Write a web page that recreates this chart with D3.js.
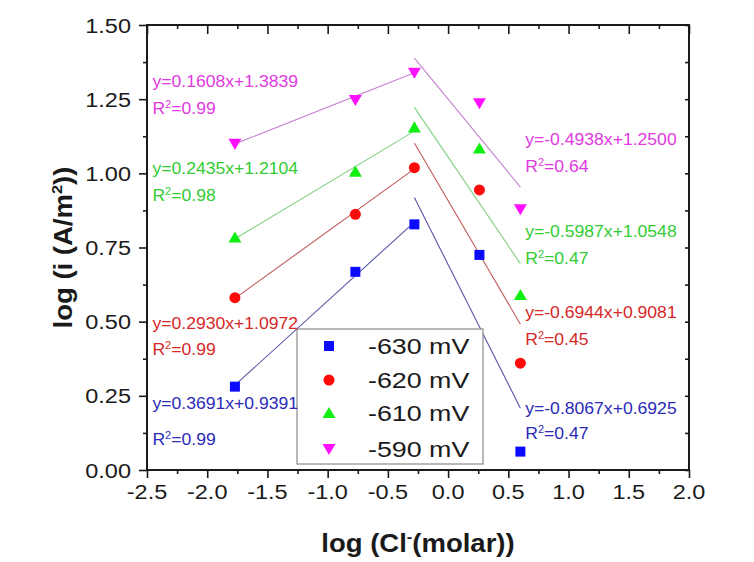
<!DOCTYPE html>
<html>
<head>
<meta charset="utf-8">
<script src="https://cdn.jsdelivr.net/npm/d3@7"></script>
<style>
  body { margin: 0; background: #fff; }
  text { font-family: "Liberation Sans", Arial, sans-serif; }
</style>
</head>
<body>
<svg id="chart"></svg>
<script>
// data
const logCl = [-1.77, -0.77, -0.28, 0.26, 0.60];
const seriesNames = ["-630 mV", "-620 mV", "-610 mV", "-590 mV"];
const logI630 = [0.281, 0.668, 0.828, 0.725, 0.062];
const logI620 = [0.581, 0.862, 1.019, 0.944, 0.360];
const logI610 = [0.784, 1.006, 1.155, 1.084, 0.590];
const logI590 = [1.099, 1.247, 1.339, 1.236, 0.879];

// linear fits printed on the chart
const leftSlope = [0.3691, 0.2930, 0.2435, 0.1608];
const leftIntercept = [0.9391, 1.0972, 1.2104, 1.3839];
const leftR2 = ["0.99", "0.99", "0.98", "0.99"];
const rightSlope = [-0.8067, -0.6944, -0.5987, -0.4938];
const rightIntercept = [0.6925, 0.9081, 1.0548, 1.2500];
const rightR2 = ["0.47", "0.45", "0.47", "0.64"];
const leftFitX = [-1.77, -0.28];
const rightFitX = [-0.28, 0.60];

const xTicks = [-2.5, -2.0, -1.5, -1.0, -0.5, 0.0, 0.5, 1.0, 1.5, 2.0];
const yTicks = [0.00, 0.25, 0.50, 0.75, 1.00, 1.25, 1.50];

// styles
const markerColors = ["#0a0aff", "#ff0a0a", "#11ee11", "#ff11ff"];
const lineColors = ["#5656a8", "#c05a5a", "#80d080", "#c480cf"];
const textColors = ["#2b2bb8", "#d62828", "#33cc33", "#e03ae0"];

// label anchors in data units (equation baseline, R2 baseline)
const leftLabelX = -2.455;
const leftLabelY = [[0.204, 0.083], [0.474, 0.386], [0.999, 0.908], [1.291, 1.200]];
const rightLabelX = 0.64;
const rightLabelY = [[0.190, 0.103], [0.511, 0.420], [0.784, 0.696], [1.097, 1.006]];

const width = 754, height = 562;
const plot = { left: 147, right: 689, top: 25, bottom: 470 };

const svg = d3.select("#chart").attr("width", width).attr("height", height);
const x = d3.scaleLinear().domain([-2.5, 2.0]).range([plot.left, plot.right]);
const y = d3.scaleLinear().domain([0, 1.5]).range([plot.bottom, plot.top]);

const series = [logI630, logI620, logI610, logI590];

// custom triangle symbols (wider than tall, like the original)
const triUp = { draw(ctx, size) { const w = 6.5, h = 6; ctx.moveTo(0, -h); ctx.lineTo(w, h * 0.85); ctx.lineTo(-w, h * 0.85); ctx.closePath(); } };
const triDown = { draw(ctx, size) { const w = 6.5, h = 6; ctx.moveTo(0, h); ctx.lineTo(w, -h * 0.85); ctx.lineTo(-w, -h * 0.85); ctx.closePath(); } };
const symbols = [
	d3.symbol(d3.symbolSquare, 100),
	d3.symbol(d3.symbolCircle, 95),
	d3.symbol(triUp),
	d3.symbol(triDown),
];

function stretched(g, str, px, py, sx, opts = {}) {
	const t = g.append("text")
		.attr("transform", `translate(${px},${py})${opts.rotate ? ` rotate(${opts.rotate})` : ""} scale(${sx},1)`)
		.attr("font-size", opts.size || 16)
		.attr("fill", opts.fill || "#1a1a1a")
		.attr("text-anchor", opts.anchor || "start");
	if (opts.weight) t.attr("font-weight", opts.weight);
	if (opts.dy) t.attr("dy", opts.dy);
	return t;
}

// axes: ticks only, frame drawn as a rectangle
function ticks(gen, values, size, transform) {
	const g = svg.append("g")
		.attr("transform", transform)
		.call(gen.tickValues(values).tickSize(size).tickFormat(""));
	g.select(".domain").remove();
	g.selectAll("line").attr("stroke", "#1a1a1a").attr("stroke-width", 1.6);
}
const xMinor = d3.range(-2.25, 2.0, 0.5);
const yMinor = d3.range(0.125, 1.5, 0.25);
ticks(d3.axisBottom(x), xTicks, 8, `translate(0,${plot.bottom})`);
ticks(d3.axisBottom(x), xMinor, 4, `translate(0,${plot.bottom})`);
ticks(d3.axisLeft(y), yTicks, 8, `translate(${plot.left},0)`);
ticks(d3.axisLeft(y), yMinor, 4, `translate(${plot.left},0)`);
ticks(d3.axisTop(x), xTicks, -9, `translate(0,${plot.top})`);
ticks(d3.axisTop(x), xMinor, -4, `translate(0,${plot.top})`);
ticks(d3.axisRight(y), yTicks.concat(yMinor), -4, `translate(${plot.right},0)`);

svg.append("rect")
	.attr("x", plot.left).attr("y", plot.top)
	.attr("width", plot.right - plot.left).attr("height", plot.bottom - plot.top)
	.attr("fill", "none").attr("stroke", "#1a1a1a").attr("stroke-width", 2);

// tick labels
const labels = svg.append("g");
for (const v of xTicks) {
	stretched(labels, v.toFixed(1), x(v), 499, 1.12, { size: 21, anchor: "middle" }).text(v.toFixed(1));
}
for (const v of yTicks) {
	stretched(labels, v.toFixed(2), 131, y(v), 1.12, { size: 21, anchor: "end", dy: "0.36em" }).text(v.toFixed(2));
}

// axis titles
const xt = stretched(svg, "", x(-0.25), 552, 1.1, { size: 25, anchor: "middle", weight: "bold" });
xt.append("tspan").text("log (Cl");
xt.append("tspan").attr("font-size", 15).attr("dy", -10).text("-");
xt.append("tspan").attr("dy", 10).text("(molar))");

const yt = stretched(svg, "", 72, y(0.75), 1.1, { size: 25, anchor: "middle", weight: "bold", rotate: -90 });
yt.append("tspan").text("log (i (A/m");
yt.append("tspan").attr("font-size", 15).attr("dy", -10).text("2");
yt.append("tspan").attr("dy", 10).text("))");

// fit lines
const fitG = svg.append("g").attr("fill", "none").attr("stroke-width", 1.1);
const line = d3.line().x(d => x(d[0])).y(d => y(d[1]));
series.forEach((_, i) => {
	fitG.append("path")
		.attr("stroke", lineColors[i])
		.attr("d", line(leftFitX.map(v => [v, leftSlope[i] * v + leftIntercept[i]])));
	fitG.append("path")
		.attr("stroke", lineColors[i])
		.attr("d", line(rightFitX.map(v => [v, rightSlope[i] * v + rightIntercept[i]])));
});

// legend
const legend = svg.append("g");
legend.append("rect")
	.attr("x", 297).attr("y", 329).attr("width", 186).attr("height", 135)
	.attr("fill", "#fff").attr("stroke", "#8a8a8a").attr("stroke-width", 1.2);
const legendRows = [346, 380, 413, 449];
seriesNames.forEach((name, i) => {
	legend.append("path")
		.attr("d", symbols[i]())
		.attr("transform", `translate(329,${legendRows[i]})`)
		.attr("fill", markerColors[i]);
	stretched(legend, name, 368, legendRows[i], 1.22, { size: 22, dy: "0.36em" }).text(name);
});

// markers
series.forEach((vals, i) => {
	svg.append("g")
		.selectAll("path")
		.data(vals.map((v, j) => [logCl[j], v]))
		.join("path")
		.attr("d", symbols[i]())
		.attr("transform", d => `translate(${x(d[0])},${y(d[1])})`)
		.attr("fill", markerColors[i]);
});

// equation labels
const eqG = svg.append("g");
function eqLabel(px, yPair, slope, intercept, r2, color) {
	stretched(eqG, "", px, y(yPair[0]), 1.1, { size: 16, fill: color })
		.text(`y=${slope.toFixed(4)}x+${intercept.toFixed(4)}`);
	const r = stretched(eqG, "", px, y(yPair[1]), 1.1, { size: 16, fill: color });
	r.append("tspan").text("R");
	r.append("tspan").attr("font-size", 10).attr("dy", -6).text("2");
	r.append("tspan").attr("dy", 6).text(`=${r2}`);
}
series.forEach((_, i) => {
	eqLabel(x(leftLabelX), leftLabelY[i], leftSlope[i], leftIntercept[i], leftR2[i], textColors[i]);
	eqLabel(x(rightLabelX), rightLabelY[i], rightSlope[i], rightIntercept[i], rightR2[i], textColors[i]);
});
</script>
</body>
</html>
